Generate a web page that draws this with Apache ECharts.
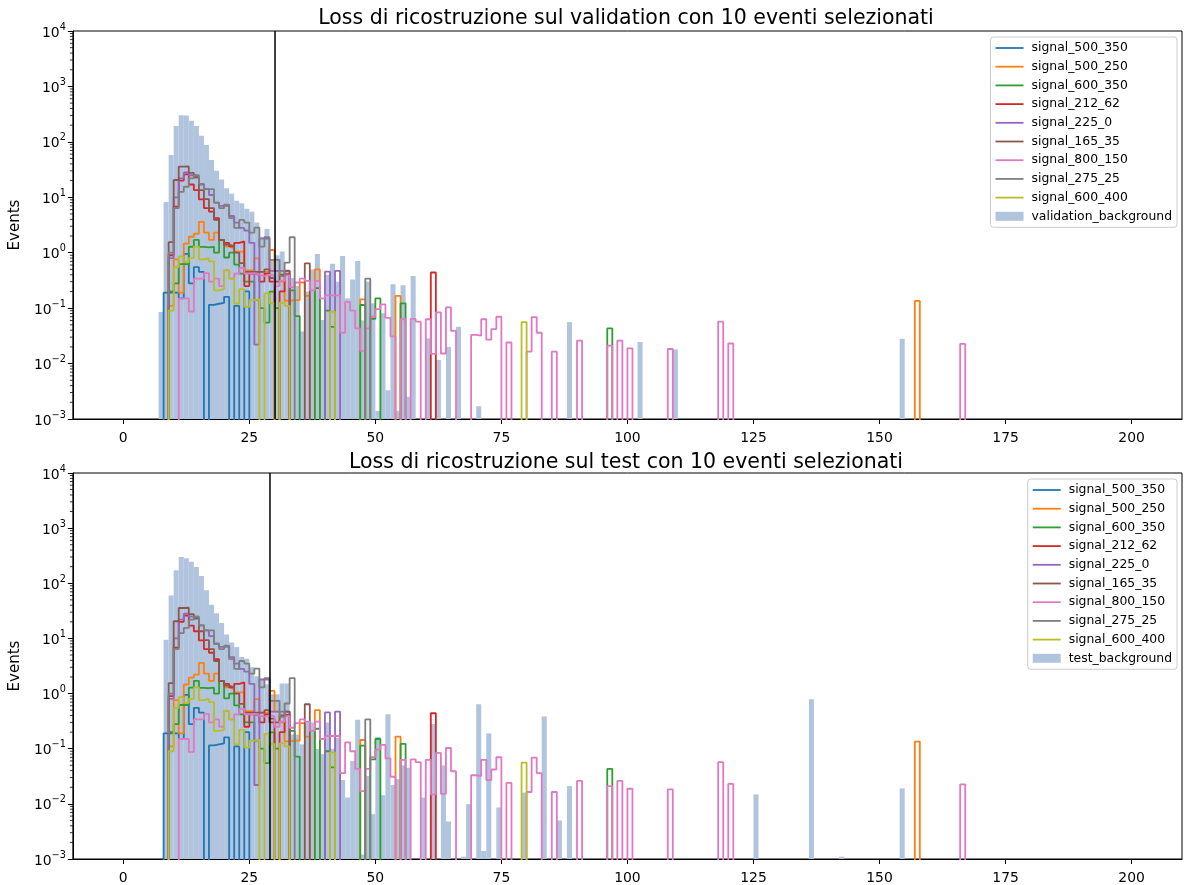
<!DOCTYPE html>
<html><head><meta charset="utf-8">
<script src="https://cdn.jsdelivr.net/npm/echarts@6/dist/echarts.min.js"></script>
<style>html,body{margin:0;padding:0;background:#fff}#c{width:1184px;height:885px}</style>
</head><body><div id="c"></div>
<script>
// ---------------- data ----------------
const titles = ['Loss di ricostruzione sul validation con 10 eventi selezionati',
                'Loss di ricostruzione sul test con 10 eventi selezionati'];
const signalNames = ['signal_500_350','signal_500_250','signal_600_350','signal_212_62','signal_225_0',
                     'signal_165_35','signal_800_150','signal_275_25','signal_600_400'];
const bgNames = ['validation_background','test_background'];
const xTicks = [0,25,50,75,100,125,150,175,200];
const yTicks = [1e-3,1e-2,1e-1,1,10,100,1000,10000];
const minorMultipliers = [2,3,4,5,6,7,8,9];
const thresholds = [30.1, 29.1];   // vertical line (validation, test)

// histogram bins of width 1 on [0,200]: [binStart, count]
const sig_500_350 = [[8,0.19],[9,0.19],[10,0.19],[11,0.15],[12,0.95],[13,0.28],[14,0.55],[15,0.45],[17,0.115],[18,0.12],[19,0.125],[20,0.16],[22,0.11],[24,0.2]];
const sig_500_250 = [[9,0.11],[10,0.76],[11,0.19],[12,1.46],[13,1.94],[14,2.2],[15,3.6],[16,2.3],[17,1.7],[18,2.3],[19,1.7],[20,1.3],[21,1.2],[22,1.05],[23,1.05],[24,0.48],[25,0.48],[26,0.79],[27,0.45],[28,0.45],[29,1.12],[30,0.47],[31,0.3],[32,0.136],[33,0.14],[34,0.14],[35,0.29],[36,0.166],[38,0.5],[47,0.144],[54,0.166],[157,0.135]];
const sig_600_350 = [[9,0.2],[10,0.28],[11,0.62],[12,0.62],[13,1.28],[14,1.7],[15,1.27],[16,1.25],[17,1.28],[18,1.0],[19,1.7],[20,0.82],[21,1.0],[22,0.61],[23,0.42],[24,0.3],[25,0.3],[26,0.14],[27,0.1],[28,0.055],[29,0.198],[30,0.1],[33,0.21],[34,0.072],[38,0.23],[40,0.09],[41,0.046],[47,0.114],[49,0.064],[50,0.15],[55,0.122],[96,0.043]];
const sig_212_62 = [[9,0.9],[10,6.8],[11,20],[12,26],[13,17],[14,13.5],[15,9.2],[16,6.4],[17,5.5],[18,4.2],[19,1.7],[20,1.5],[21,1.3],[22,1.5],[23,1.6],[24,0.25],[25,0.42],[26,0.4],[27,0.3],[28,0.42],[29,0.3],[31,0.2],[32,0.41],[61,0.44]];
const sig_225_0 = [[9,0.8],[10,10],[11,22],[12,28],[13,25],[14,23],[15,17],[16,14],[17,11],[18,8],[19,7],[20,7],[21,4.6],[22,3.5],[23,2.8],[24,2.5],[25,1.5],[26,0.022],[27,1.8],[28,1.8],[29,0.47],[30,0.47],[31,0.47],[32,0.47],[40,0.455],[42,0.47]];
const sig_165_35 = [[9,1.55],[10,20.5],[11,35.6],[12,36],[13,27.5],[14,23],[15,13.5],[16,9.3],[17,6.4],[18,3.9],[19,1.7],[20,1.4],[21,1.3],[22,1.0],[23,0.65],[24,0.45],[25,0.45],[26,0.45],[27,0.45],[28,0.5],[29,0.35],[30,0.3],[31,0.4],[32,0.47],[36,0.64]];
const sig_800_150 = [[11,0.15],[12,0.15],[13,0.087],[14,0.34],[15,0.34],[16,0.43],[17,0.3],[18,0.34],[19,0.25],[20,0.48],[21,0.34],[22,0.42],[23,0.53],[24,0.42],[25,0.43],[26,0.4],[27,0.38],[28,0.4],[29,0.39],[30,0.25],[31,0.31],[32,0.39],[33,0.24],[34,0.29],[35,0.34],[36,0.31],[37,0.21],[38,0.31],[39,0.15],[40,0.17],[41,0.17],[42,0.17],[43,0.036],[44,0.13],[45,0.09],[46,0.043],[47,0.017],[48,0.043],[49,0.07],[50,0.096],[51,0.117],[52,0.067],[53,0.031],[55,0.063],[57,0.064],[58,0.057],[60,0.063],[61,0.0149],[62,0.084],[63,0.0152],[64,0.103],[65,0.039],[69,0.033],[70,0.032],[71,0.063],[72,0.027],[73,0.042],[74,0.07],[76,0.024],[80,0.0164],[81,0.069],[82,0.036],[85,0.0164],[90,0.026],[96,0.021],[98,0.026],[100,0.0188],[108,0.0183],[118,0.057],[120,0.023],[166,0.0226]];
const sig_275_25 = [[9,1.0],[10,6.4],[11,12.5],[12,15.5],[13,22],[14,25],[15,17.5],[16,14],[17,14],[18,8],[19,6.4],[20,7.4],[21,4.2],[22,2.8],[23,3.9],[24,3.5],[25,2.3],[26,2.83],[27,1.29],[28,1.9],[29,0.74],[30,0.74],[31,0.38],[32,0.66],[33,1.9],[48,0.34]];
const sig_600_400 = [[9,0.09],[10,0.55],[11,0.86],[12,0.68],[13,0.8],[14,1.29],[15,0.76],[16,0.8],[17,0.7],[18,0.21],[19,0.22],[20,0.49],[21,0.34],[22,0.12],[23,0.22],[24,0.105],[25,0.14],[26,0.144],[28,0.185],[29,0.122],[31,0.125],[32,0.11],[41,0.086],[79,0.056]];

const bg_validation = [[7,0.085],[8,8.2],[9,58],[10,194],[11,303],[12,300],[13,240],[14,194],[15,129],[16,88],[17,47],[18,30],[19,21],[20,14.6],[21,11.6],[22,8.7],[23,7.8],[24,6.2],[25,5.5],[26,3.5],[27,1.95],[28,2.68],[29,0.74],[30,0.9],[31,1.05],[32,0.5],[33,0.35],[34,0.25],[35,0.038],[36,0.2],[37,0.5],[38,0.95],[39,0.061],[40,0.4],[41,0.63],[42,0.3],[43,0.87],[44,0.15],[45,0.33],[46,0.71],[47,0.06],[48,0.3],[49,0.122],[50,0.0014],[51,0.081],[52,0.0033],[53,0.27],[54,0.0014],[55,0.26],[56,0.0025],[57,0.38],[60,0.0285],[62,0.0116],[64,0.02],[66,0.046],[70,0.0017],[88,0.056],[102,0.0245],[109,0.018],[154,0.028]];
const bg_test = [[8,9.5],[9,60],[10,173],[11,300],[12,285],[13,247],[14,198],[15,136],[16,75],[17,41],[18,28.6],[19,19],[20,11.8],[21,8.4],[22,7.0],[23,4.6],[24,4.3],[25,3.0],[26,2.07],[27,1.8],[28,1.47],[29,0.97],[30,0.97],[31,1.53],[32,1.53],[33,0.18],[34,0.18],[35,0.12],[36,0.3],[37,0.3],[38,0.099],[39,0.08],[40,0.3],[41,0.1],[42,0.157],[43,0.027],[44,0.013],[45,0.06],[46,0.335],[47,0.0012],[48,0.032],[49,0.0065],[50,0.163],[51,0.0144],[52,0.42],[53,0.022],[54,0.028],[55,0.05],[56,0.045],[59,0.013],[61,0.28],[63,0.05],[64,0.0048],[67,0.0011],[68,0.0099],[70,0.64],[71,0.0014],[72,0.19],[74,0.0086],[79,0.016],[83,0.385],[86,0.005],[88,0.021],[125,0.0148],[136,0.79],[142,0.0011],[154,0.019]];

const signalData = [sig_500_350, sig_500_250, sig_600_350, sig_212_62, sig_225_0, sig_165_35, sig_800_150, sig_275_25, sig_600_400];
const bgData = [bg_validation, bg_test];
const colors = ['#1f77b4','#ff7f0e','#2ca02c','#d62728','#9467bd','#8c564b','#e377c2','#7f7f7f','#bcbd22'];
const bgColor = '#b0c4de';

// ---------------- chart ----------------
const FONT = 'DejaVu Sans';
const X_MIN = -10, X_MAX = 210, Y_MIN = 1e-3, Y_MAX = 1e4, FLOOR = 1e-8, NBINS = 200;

function stepOutline(pairs) {
  const vals = new Array(NBINS).fill(0);
  pairs.forEach(([b, v]) => { vals[b] = v; });
  const pts = [[0, FLOOR]];
  for (let i = 0; i < NBINS; i++) {
    const v = vals[i] > 0 ? vals[i] : FLOOR;
    pts.push([i, v]); pts.push([i + 1, v]);
  }
  pts.push([NBINS, FLOOR]);
  return pts;
}
const supText = e => (e < 0 ? '\u2212' + (-e) : '' + e);

const grids = [
  {left: 70, top: 31, width: 1112, height: 388},
  {left: 70, top: 473, width: 1112, height: 389}
];
const legendTops = [37, 479];
const titleTops = [8, 452];

const option = {
  animation: false,
  backgroundColor: '#fff',
  title: titles.map((t, i) => ({
    text: t, left: 626, textAlign: 'center', top: titleTops[i], padding: 0,
    textStyle: {fontFamily: FONT, fontSize: 20.5, fontWeight: 'normal', color: '#000'}
  })),
  grid: grids.map(g => Object.assign({show: true, borderColor: '#000', borderWidth: 1, backgroundColor: 'transparent'}, g)),
  legend: [0, 1].map(gi => ({
    orient: 'vertical', right: 7, top: legendTops[gi], padding: [4, 5, 4, 5],
    itemWidth: 28, itemHeight: 9, itemGap: 4.7,
    backgroundColor: 'rgba(255,255,255,0.8)', borderColor: '#cccccc', borderWidth: 1, borderRadius: 3,
    selectedMode: false,
    textStyle: {fontFamily: FONT, fontSize: 12.4, color: '#000', lineHeight: 14, padding: [0, 0, 0, 3]},
    data: signalNames.map(n => ({name: n, icon: 'path://M0,0H28V1.8H0Z'}))
            .concat([{name: bgNames[gi], icon: 'rect'}])
  })),
  xAxis: [0, 1].map(gi => ({
    type: 'value', gridIndex: gi, min: X_MIN, max: X_MAX,
    axisLine: {show: true, onZero: false, lineStyle: {color: '#000', width: 1}},
    axisTick: {show: true, length: 5, customValues: xTicks, lineStyle: {color: '#000', width: 1}},
    axisLabel: {customValues: xTicks, margin: 12, fontFamily: FONT, fontSize: 13.9, color: '#000'},
    splitLine: {show: false}
  })),
  yAxis: [0, 1].map(gi => ({
    type: 'log', logBase: 10, gridIndex: gi, min: Y_MIN, max: Y_MAX,
    axisLine: {show: true, onZero: false, lineStyle: {color: '#000', width: 1}},
    axisTick: {show: true, length: 5, customValues: yTicks, lineStyle: {color: '#000', width: 1}},
    axisLabel: {
      customValues: yTicks, margin: 7,
      formatter: v => '{b|10}{s|' + supText(Math.round(Math.log10(v))) + '}',
      rich: {
        b: {fontFamily: FONT, fontSize: 13.9, color: '#000', lineHeight: 18, verticalAlign: 'bottom'},
        s: {fontFamily: FONT, fontSize: 9.7, color: '#000', lineHeight: 3, verticalAlign: 'top'}
      }
    },
    splitLine: {show: false},
    name: 'Events', nameLocation: 'middle', nameGap: 42, nameRotate: 90,
    nameTextStyle: {fontFamily: FONT, fontSize: 15, color: '#000'}
  })),
  series: []
};

const minorTickValues = [];
for (let e = -3; e < 4; e++) minorMultipliers.forEach(m => minorTickValues.push([X_MIN, m * Math.pow(10, e)]));

[0, 1].forEach(gi => {
  // background histogram (filled bars)
  option.series.push({
    name: bgNames[gi], type: 'custom', xAxisIndex: gi, yAxisIndex: gi, z: 1,
    itemStyle: {color: bgColor},
    encode: {x: 0, y: 1},
    data: bgData[gi].filter(d => d[1] >= Y_MIN),
    renderItem: (params, api) => {
      const x0 = api.value(0), v = api.value(1);
      const p1 = api.coord([x0, v]);
      const p2 = api.coord([x0 + 1, Y_MIN]);
      return {type: 'rect', shape: {x: p1[0], y: p1[1], width: p2[0] - p1[0], height: p2[1] - p1[1]},
              style: {fill: bgColor}};
    }
  });
  // signal step histograms
  signalNames.forEach((n, si) => {
    option.series.push({
      name: n, type: 'line', xAxisIndex: gi, yAxisIndex: gi, z: 2 + si,
      data: stepOutline(signalData[si]), symbol: 'none', showSymbol: false, clip: true,
      color: colors[si], itemStyle: {color: colors[si]},
      lineStyle: {color: colors[si], width: 1.8}
    });
  });
  // threshold line
  option.series.push({
    name: 'threshold_' + gi, type: 'line', xAxisIndex: gi, yAxisIndex: gi, z: 20,
    data: [[thresholds[gi], Y_MIN], [thresholds[gi], Y_MAX]], symbol: 'none',
    lineStyle: {color: '#000', width: 1.5}
  });
  // minor log ticks on y axis
  option.series.push({
    name: 'minor_' + gi, type: 'custom', xAxisIndex: gi, yAxisIndex: gi, z: 30, silent: true,
    encode: {x: 0, y: 1}, data: minorTickValues,
    renderItem: (params, api) => {
      const p = api.coord([api.value(0), api.value(1)]);
      return {type: 'line', shape: {x1: p[0] - 3, y1: p[1], x2: p[0], y2: p[1]},
              style: {stroke: '#000', lineWidth: 0.8}};
    }
  });
});

const chart = echarts.init(document.getElementById('c'), null, {renderer: 'canvas'});
chart.setOption(option);
</script></body></html>
